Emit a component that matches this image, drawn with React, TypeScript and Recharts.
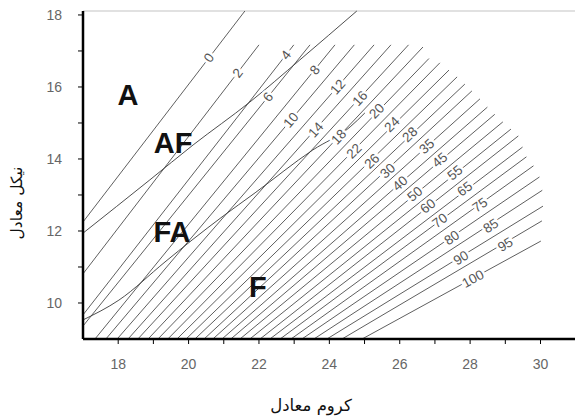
import { ComposedChart, Line, Scatter, XAxis, YAxis, ReferenceLine } from 'recharts';

// iso ferrite-number lines (Cr eq on x, Ni eq on y)
const ferriteNumbers = [0, 2, 4, 6, 8, 10, 12, 14, 16, 18, 20, 22, 24, 26, 28, 30, 35, 40, 45, 50, 55, 60, 65, 70, 75, 80, 85, 90, 95, 100];
const startCr = [17, 17, 17, 17, 17.34, 17.65, 17.97, 18.28, 18.56, 18.85, 19.13, 19.41, 19.67, 19.93, 20.18, 20.44, 20.69, 20.95, 21.2, 21.46, 21.74, 22.03, 22.31, 22.6, 22.91, 23.22, 23.56, 23.93, 24.36, 24.93];
const startNi = [12.25, 10.81, 9.67, 9.36, 9, 9, 9, 9, 9, 9, 9, 9, 9, 9, 9, 9, 9, 9, 9, 9, 9, 9, 9, 9, 9, 9, 9, 9, 9, 9];
const endCr = [21.6, 22.0, 22.99, 23.45, 24.16, 24.71, 25.27, 25.75, 26.25, 26.66, 26.83, 27.14, 27.4, 27.63, 27.85, 28.05, 28.28, 28.49, 28.7, 28.93, 29.16, 29.37, 29.49, 29.6, 29.8, 29.97, 30.05, 30.07, 30.04, 30.01];
const endNi = [18.11, 17.17, 17.17, 17.17, 17.17, 17.17, 17.17, 17.17, 17.17, 17.11, 16.79, 16.67, 16.47, 16.28, 16.08, 15.89, 15.67, 15.44, 15.24, 15.03, 14.83, 14.64, 14.33, 14.06, 13.81, 13.5, 13.13, 12.69, 12.28, 11.72];
const labelCr = [20.58, 21.4, 22.77, 22.26, 23.59, 22.91, 24.24, 23.62, 24.87, 24.27, 25.35, 24.7, 25.78, 25.21, 26.29, 25.66, 26.77, 26.01, 27.14, 26.43, 27.57, 26.8, 27.85, 27.14, 28.28, 27.48, 28.59, 27.74, 29.0, 28.08];
const labelNi = [16.81, 16.39, 16.89, 15.72, 16.47, 15.08, 16.0, 14.81, 15.68, 14.61, 15.33, 14.22, 14.96, 13.94, 14.68, 13.67, 14.35, 13.32, 13.97, 13.03, 13.62, 12.69, 13.17, 12.29, 12.72, 11.81, 12.14, 11.25, 11.62, 10.67];

// phase boundaries
const boundaryAfFa = [
  { x: 17, y: 11.94 },
  { x: 18.9, y: 13.42 },
  { x: 20.13, y: 14.39 },
  { x: 21.74, y: 15.58 },
  { x: 23.16, y: 16.75 },
  { x: 24.78, y: 18.11 },
];
const boundaryFaF = [
  { x: 17, y: 9.53 },
  { x: 18.02, y: 10.08 },
  { x: 19.33, y: 11.14 },
  { x: 20.1, y: 11.75 },
  { x: 20.95, y: 12.39 },
  { x: 21.89, y: 13.06 },
  { x: 23.53, y: 14.25 },
  { x: 24.59, y: 14.89 },
  { x: 25.01, y: 15.28 },
];

const regionNames = ['A', 'AF', 'FA', 'F'];
const regionCr = [18.28, 19.56, 19.53, 21.97];
const regionNi = [15.78, 14.44, 11.97, 10.44];

const xTicks = [18, 19, 20, 21, 22, 23, 24, 25, 26, 27, 28, 29, 30];
const yTicks = [10, 11, 12, 13, 14, 15, 16, 17, 18];

const W = 575;
const H = 418;
const PLOT_LEFT = 83;
const PLOT_TOP = 11;
const XAXIS_H = 79;
const X_MIN = 17;
const X_MAX = 30.98;
const Y_MIN = 9;
const Y_MAX = 18.11;
const pxPerX = (W - PLOT_LEFT) / (X_MAX - X_MIN);
const pxPerY = (H - PLOT_TOP - XAXIS_H) / (Y_MAX - Y_MIN);

const isoLines = ferriteNumbers.map((fn, i) => ({
  fn,
  points: [
    { x: startCr[i], y: startNi[i] },
    { x: endCr[i], y: endNi[i] },
  ],
}));

const lineLabels = ferriteNumbers.map((fn, i) => ({
  x: labelCr[i],
  y: labelNi[i],
  fn,
  slopePx: ((endNi[i] - startNi[i]) * pxPerY) / ((endCr[i] - startCr[i]) * pxPerX),
}));

const regions = regionNames.map((name, i) => ({ x: regionCr[i], y: regionNi[i], name }));

const sans = '"Liberation Sans", Arial, Helvetica, sans-serif';

const FnLabel = (props: any) => {
  const { cx, cy, payload } = props;
  const angle = (-Math.atan(payload.slopePx) * 180) / Math.PI;
  return (
    <text
      x={cx}
      y={cy}
      transform={`rotate(${angle} ${cx} ${cy})`}
      textAnchor="middle"
      dominantBaseline="central"
      fontSize={13.5}
      fontFamily={sans}
      fill="#555"
      stroke="#fff"
      strokeWidth={5}
      paintOrder="stroke"
    >
      {payload.fn}
    </text>
  );
};

const RegionLabel = (props: any) => {
  const { cx, cy, payload } = props;
  return (
    <text
      x={cx}
      y={cy}
      textAnchor="middle"
      dominantBaseline="central"
      fontSize={29}
      fontWeight={700}
      fontFamily={sans}
      fill="#111"
    >
      {payload.name}
    </text>
  );
};

const evenOnly = (v: number) => (v % 2 === 0 ? String(v) : '');

export default function App() {
  return (
    <div style={{ position: 'absolute', left: 0, top: 0, width: W, height: H, overflow: 'hidden', background: '#fff' }}>
      <ComposedChart width={W} height={H} margin={{ top: PLOT_TOP, right: 0, bottom: 0, left: 0 }}>
        <XAxis
          type="number"
          dataKey="x"
          domain={[X_MIN, X_MAX]}
          ticks={xTicks}
          interval={0}
          tickFormatter={evenOnly}
          height={XAXIS_H}
          tickSize={5}
          tickMargin={15}
          tick={{ fill: '#666', fontSize: 14, fontFamily: sans }}
          axisLine={{ stroke: '#000', strokeWidth: 2.5 }}
          tickLine={{ stroke: '#000', strokeWidth: 1 }}
        />
        <YAxis
          type="number"
          dataKey="y"
          domain={[Y_MIN, Y_MAX]}
          ticks={yTicks}
          interval={0}
          tickFormatter={evenOnly}
          width={PLOT_LEFT}
          tickSize={5}
          tickMargin={16}
          tick={{ fill: '#666', fontSize: 14, fontFamily: sans }}
          axisLine={{ stroke: '#000', strokeWidth: 2.5 }}
          tickLine={{ stroke: '#000', strokeWidth: 1 }}
        />
        <ReferenceLine y={Y_MAX} stroke="#c4c4c4" strokeWidth={1.2} />
        {isoLines.map((l) => (
          <Line
            key={`fn-${l.fn}`}
            data={l.points}
            dataKey="y"
            type="linear"
            stroke="#4d4d4d"
            strokeWidth={0.9}
            dot={false}
            activeDot={false}
            legendType="none"
            isAnimationActive={false}
          />
        ))}
        <Line data={boundaryAfFa} dataKey="y" type="monotone" stroke="#3a3a3a" strokeWidth={0.9} dot={false} activeDot={false} isAnimationActive={false} />
        <Line data={boundaryFaF} dataKey="y" type="monotone" stroke="#3a3a3a" strokeWidth={0.9} dot={false} activeDot={false} isAnimationActive={false} />
        <Scatter data={lineLabels} dataKey="y" shape={FnLabel} isAnimationActive={false} />
        <Scatter data={regions} dataKey="y" shape={RegionLabel} isAnimationActive={false} />
      </ComposedChart>
      <div
        style={{
          position: 'absolute',
          left: 311,
          top: 405,
          transform: 'translate(-50%, -50%)',
          direction: 'rtl',
          whiteSpace: 'nowrap',
          fontFamily: '"DejaVu Sans", "Noto Sans", sans-serif',
          fontSize: 16.5,
          color: '#111',
        }}
      >
        کروم معادل
      </div>
      <div
        style={{
          position: 'absolute',
          left: 17,
          top: 203,
          transform: 'translate(-50%, -50%) rotate(-90deg)',
          direction: 'rtl',
          whiteSpace: 'nowrap',
          fontFamily: '"DejaVu Sans", "Noto Sans", sans-serif',
          fontSize: 15.5,
          color: '#111',
        }}
      >
        نیکل معادل
      </div>
    </div>
  );
}
